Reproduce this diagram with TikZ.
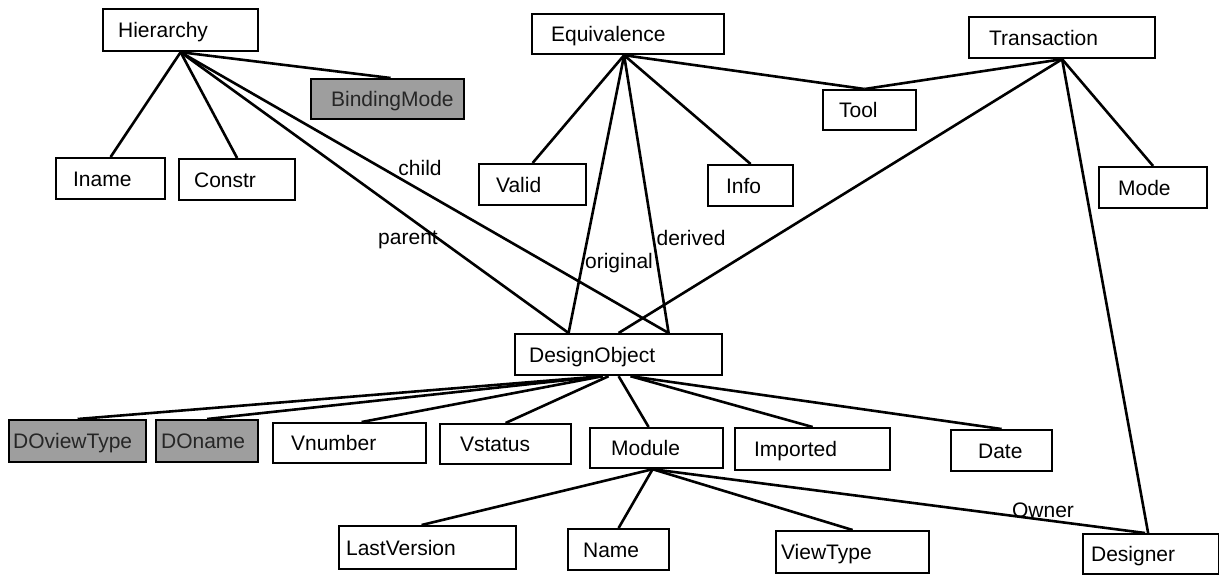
\documentclass[tikz,border=0pt]{standalone}
\usepackage{fontspec}
\setmainfont{Liberation Sans}
\newcommand\mkbox[8][]{%
  \pgfmathsetmacro\bxw{(#5-#3)*0.5}%
  \pgfmathsetmacro\bxh{(#6-#4)*0.5}%
  \pgfmathsetmacro\bxp{#7*0.5}%
  \node[box,#1,minimum width=\bxw pt,minimum height=\bxh pt,anchor=north west] (#2) at (#3,#4) {\makebox[\bxw pt][l]{\hspace{\bxp pt}#8}};%
}
\begin{document}
\begin{tikzpicture}[x=0.5pt,y=-0.5pt,
  box/.style={draw, line width=1.1pt, inner sep=0pt, text height=7.6pt, text depth=0pt, font=\fontsize{10.5}{12}\selectfont},
  shaded/.style={fill=black!38, text=black!85},
  conn/.style={line width=1.3pt},
  lbl/.style={inner sep=0pt, font=\fontsize{10.5}{12}\selectfont}]
\useasboundingbox (0,0) rectangle (1219,574);
% top row
\mkbox{hier}{102}{8}{257}{50}{15}{Hierarchy}
\mkbox[shaded]{bind}{310}{78}{463}{118}{20}{BindingMode}
\mkbox{iname}{55}{157}{164}{198}{17}{Iname}
\mkbox{constr}{178}{158}{294}{199}{15}{Constr}
\mkbox{equiv}{531}{13}{723}{53}{19}{Equivalence}
\mkbox{tool}{822}{89}{915}{129}{16}{Tool}
\mkbox{valid}{478}{163}{585}{204}{17}{Valid}
\mkbox{info}{707}{164}{792}{205}{18}{Info}
\mkbox{trans}{968}{16}{1154}{57}{20}{Transaction}
\mkbox{mode}{1098}{166}{1206}{207}{19}{Mode}
% middle
\mkbox{do}{514}{333}{721}{374}{14}{DesignObject}
% attribute row
\mkbox[shaded]{dovt}{8}{419}{145}{461}{4}{DOviewType}
\mkbox[shaded]{doname}{155}{419}{257}{461}{5}{DOname}
\mkbox{vnum}{272}{422}{425}{462}{18}{Vnumber}
\mkbox{vstat}{439}{423}{570}{463}{20}{Vstatus}
\mkbox{module}{589}{427}{722}{467}{21}{Module}
\mkbox{imported}{734}{427}{889}{469}{19}{Imported}
\mkbox{date}{950}{429}{1051}{470}{27}{Date}
% bottom row
\mkbox{lastv}{338}{525}{515}{568}{7}{LastVersion}
\mkbox{name}{567}{528}{668}{569}{15}{Name}
\mkbox{viewtype}{775}{530}{928}{572}{5}{ViewType}
\mkbox{designer}{1082}{533}{1218}{573}{8}{Designer}

% Hierarchy connectors
\draw[conn] (hier.south) -- (iname.north);
\draw[conn] (hier.south) -- (constr.north);
\draw[conn] (hier.south) -- ([xshift=1.5pt]bind.north);
\draw[conn] (hier.south) -- ([xshift=-25pt]do.north);
\draw[conn] (hier.south) -- ([xshift=25pt]do.north);
% Equivalence connectors
\draw[conn] ([xshift=-2pt]equiv.south) -- (valid.north);
\draw[conn] ([xshift=-2pt]equiv.south) -- (info.north);
\draw[conn] ([xshift=-2pt]equiv.south) -- ([xshift=-2.5pt]tool.north);
\draw[conn] ([xshift=-2pt]equiv.south) -- ([xshift=-25pt]do.north);
\draw[conn] ([xshift=-2pt]equiv.south) -- ([xshift=25pt]do.north);
% Transaction connectors
\draw[conn] (trans.south) -- ([xshift=-2.5pt]tool.north);
\draw[conn] (trans.south) -- (do.north);
\draw[conn] (trans.south) -- (mode.north);
\draw[conn] (trans.south) -- ([xshift=-1.5pt]designer.north);
% DesignObject connectors
\draw[conn] ([xshift=-8pt]do.south) -- (dovt.north);
\draw[conn] ([xshift=-8pt]do.south) -- (doname.north);
\draw[conn] ([xshift=-8pt]do.south) -- ([xshift=6pt]vnum.north);
\draw[conn] ([xshift=-5pt]do.south) -- (vstat.north);
\draw[conn] (do.south) -- ([xshift=-4pt]module.north);
\draw[conn] ([xshift=6pt]do.south) -- (imported.north);
\draw[conn] ([xshift=6pt]do.south) -- (date.north);
% Module connectors
\draw[conn] ([xshift=-2pt]module.south) -- ([xshift=-3pt]lastv.north);
\draw[conn] ([xshift=-2pt]module.south) -- (name.north);
\draw[conn] ([xshift=-2pt]module.south) -- (viewtype.north);
\draw[conn] ([xshift=-2pt]module.south) -- ([xshift=-3pt]designer.north);

% connector labels
\node[lbl] (lchild) at (420,168) {child};
\node[lbl] (lparent) at (408,240) {parent};
\node[lbl] (loriginal) at (619,263) {original};
\node[lbl] (lderived) at (691,238) {derived};
\node[lbl] (lowner) at (1043,510) {Owner};
\end{tikzpicture}
\end{document}
